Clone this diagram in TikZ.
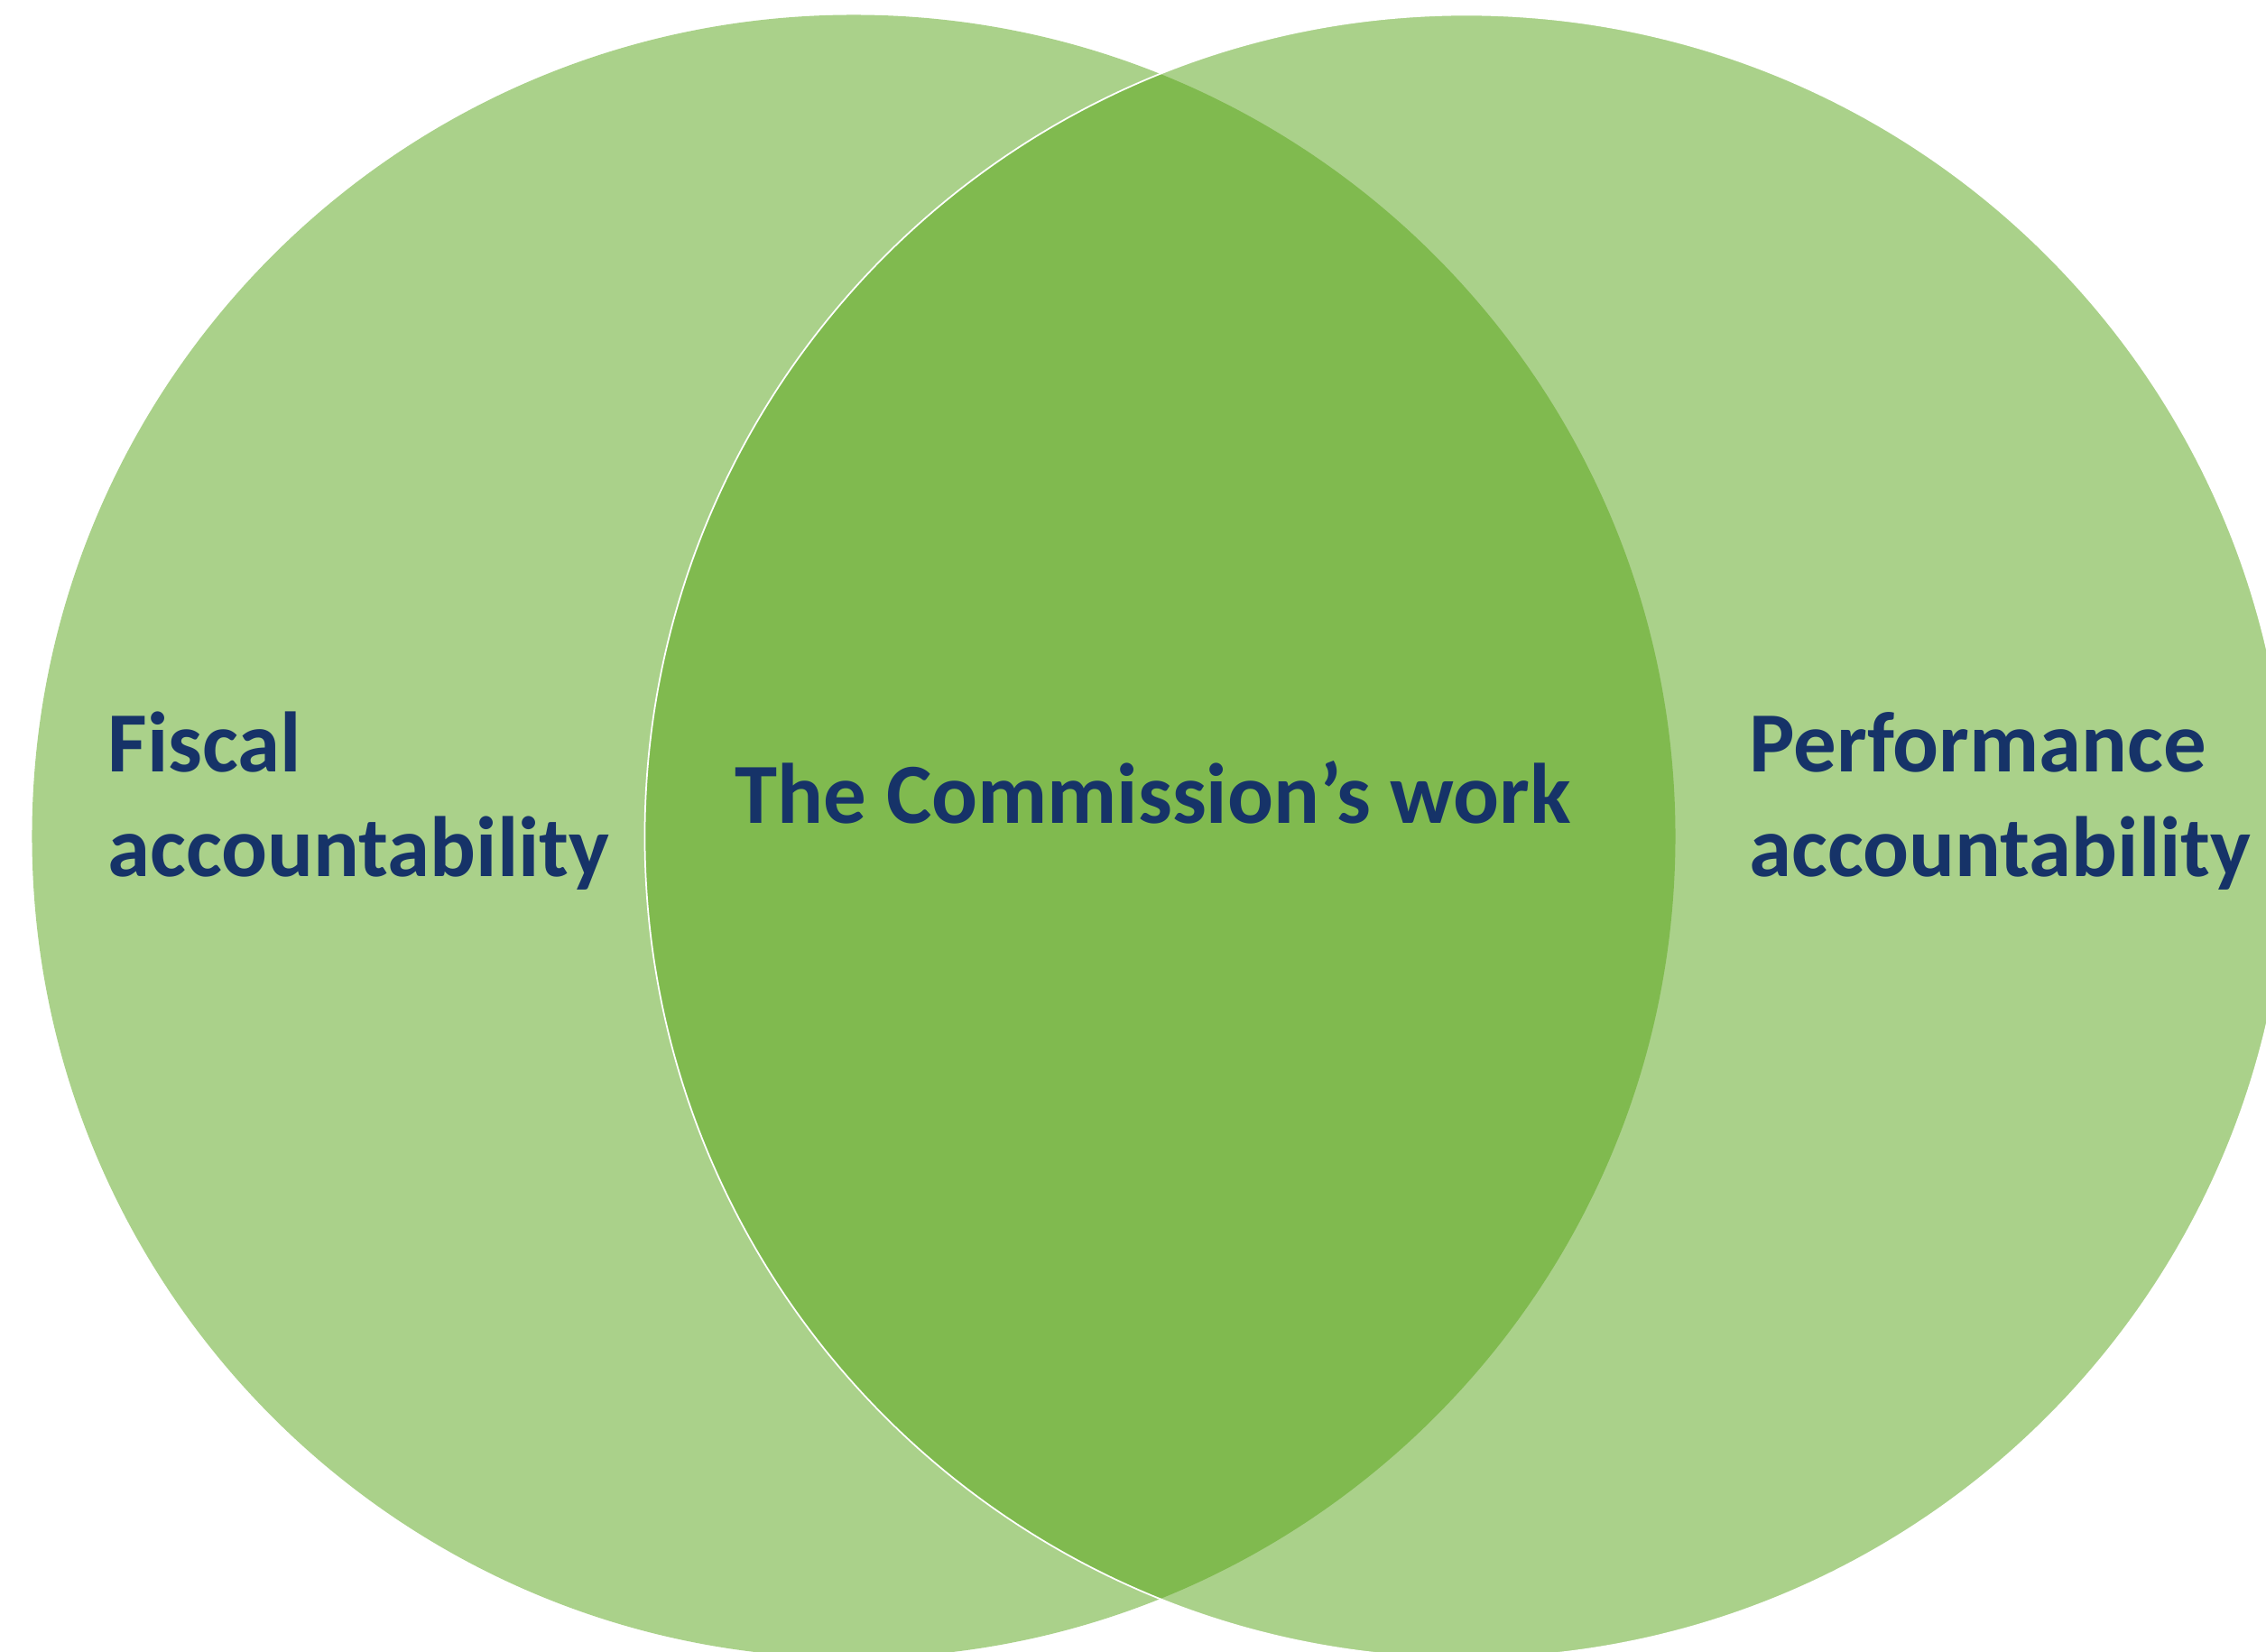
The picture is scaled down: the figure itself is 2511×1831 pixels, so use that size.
\documentclass[tikz,border=0pt]{standalone}
\usepackage{fontspec}
\setmainfont{Carlito}
\definecolor{venngreen}{RGB}{170,209,138}
\definecolor{venndark}{RGB}{128,186,79}
\definecolor{vennnavy}{RGB}{22,51,104}
\tikzset{
  venntext/.style={font=\fontsize{27}{33}\selectfont\bfseries, text=vennnavy, inner sep=0pt, align=left}
}

\begin{document}
\begin{tikzpicture}[x=0.01cm,y=-0.01cm]
\useasboundingbox (0,0) rectangle (2511,1831);
\clip (0,0) rectangle (2511,1831);
\fill[venngreen] (946,927) circle (9.1cm);
\fill[venngreen] (1625,927) circle (9.1cm);
\begin{scope}
\clip (946,927) circle (9.1cm);
\fill[venndark] (1625,927) circle (9.1cm);
\end{scope}
\draw[white, line width=0.5pt] (1625,927) circle (9.1cm);
\node[venntext, anchor=base west](fiscal) at (119,972){Fiscal\\accountability};
\node[venntext, anchor=base](work) at (1278,913){The Commission’s work};
\node[venntext, anchor=base west](performance) at (1938,972){Performance\\accountability};
\end{tikzpicture}
\end{document}
